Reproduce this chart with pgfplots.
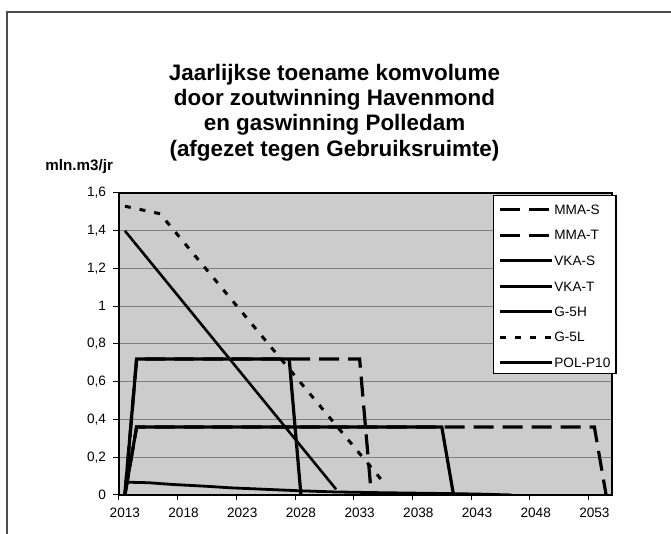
\documentclass[border=0pt]{standalone}
\usepackage{fontspec}
\setmainfont{Liberation Sans}
\usepackage{pgfplots}
\pgfplotsset{compat=1.18}
\begin{document}
\begin{tikzpicture}[x=0.5pt,y=0.5pt]
\useasboundingbox (0,0) rectangle (671,534);
\fill[white] (0,0) rectangle (671,534);
\draw[black!70, line width=0.6pt] (7,0) -- (7,522) -- (671,522);
\node[font=\fontsize{11.2}{13}\selectfont\bfseries, anchor=base] at (334.5,453) {Jaarlijkse toename komvolume};
\node[font=\fontsize{11.2}{13}\selectfont\bfseries, anchor=base] at (334.5,428) {door zoutwinning Havenmond};
\node[font=\fontsize{11.2}{13}\selectfont\bfseries, anchor=base] at (334.5,403) {en gaswinning Polledam};
\node[font=\fontsize{11.2}{13}\selectfont\bfseries, anchor=base] at (334.5,377.5) {(afgezet tegen Gebruiksruimte)};
\node[font=\fontsize{7.6}{9}\selectfont\bfseries, anchor=base west, inner sep=0pt] at (45,363.5) {mln.m3/jr};
\begin{axis}[
  at={(59.5pt,19.5pt)}, anchor=south west,
  scale only axis, width=246.5pt, height=151pt,
  xmin=2012.5, xmax=2054.5, ymin=0, ymax=1.6,
  axis background/.style={fill=black!20},
  axis line style={black, line width=0.6pt},
  xtick={2013,2018,...,2053},
  minor xtick={2012.5,2017.5,...,2052.5},
  every major x tick/.append style={draw=none},
  ytick={0,0.2,...,1.6},
  tick align=outside, tick pos=left,
  major tick length=3pt, minor tick length=2.5pt,
  tick style={black, line width=0.5pt},
  ymajorgrids, grid style={black!50, line width=0.5pt},
  ticklabel style={font=\fontsize{6.8}{8}\selectfont},
  /pgf/number format/assume math mode=true,
  /pgf/number format/set thousands separator={},
  yticklabel style={/pgf/number format/.cd, use comma, fixed, precision=1},
  xticklabel style={/pgf/number format/.cd, set thousands separator={}},
  legend cell align=left,
  legend image code/.code={\path (0pt,3pt); \draw[#1] (0pt,0pt) -- (26pt,0pt);},
  legend style={at={(rel axis cs:0.7586,0.9934)}, anchor=north west,
    draw=black, line width=0.6pt, fill=white, font=\fontsize{6.8}{8}\selectfont,
    inner xsep=2.5pt, inner ysep=3.2pt, row sep=6.6pt,
    nodes={text height=4.8pt, text depth=0pt, inner ysep=0pt, inner xsep=0.3pt}},
]
\addplot[black, line width=1.6pt, dash pattern=on 10pt off 4.5pt] coordinates {(2013,0) (2014,0.72) (2033,0.72) (2034,0)};
\addlegendentry{MMA-S}
\addplot[black, line width=1.6pt, dash pattern=on 10pt off 4.5pt] coordinates {(2013,0) (2014,0.36) (2053,0.36) (2054,0)};
\addlegendentry{MMA-T}
\addplot[black, line width=1.6pt] coordinates {(2013,0) (2014,0.72) (2027,0.72) (2028,0)};
\addlegendentry{VKA-S}
\addplot[black, line width=1.6pt] coordinates {(2013,0) (2014,0.36) (2040,0.36) (2041,0)};
\addlegendentry{VKA-T}
\addplot[black, line width=1.3pt] coordinates {(2013,1.40) (2031,0.03)};
\addlegendentry{G-5H}
\addplot[black, line width=1.5pt, dash pattern=on 3pt off 4.5pt] coordinates {(2013,1.53) (2016,1.49) (2035,0.07)};
\addlegendentry{G-5L}
\addplot[black, line width=1.4pt] coordinates {(2013,0.068) (2015,0.065) (2017,0.056) (2020,0.046) (2022,0.038) (2025,0.030) (2028,0.022) (2031,0.016) (2035,0.012) (2040,0.008) (2043,0.005) (2046,0)};
\addlegendentry{POL-P10}
\end{axis}
\end{tikzpicture}
\end{document}
